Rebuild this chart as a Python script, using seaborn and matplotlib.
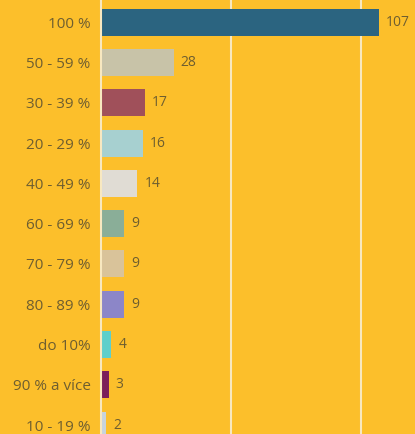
import pandas as pd
import matplotlib.pyplot as plt
import seaborn as sns

# 数据
kategorie = ['100 %', '50 - 59 %', '30 - 39 %', '20 - 29 %', '40 - 49 %', '60 - 69 %',
             '70 - 79 %', '80 - 89 %', 'do 10%', '90 % a více', '10 - 19 %']
pocty = [107, 28, 17, 16, 14, 9, 9, 9, 4, 3, 2]
barvy = ['#2B6480', '#C8C3A8', '#A0505A', '#A7D0D0', '#E0DCD4', '#8AAE98',
         '#D9C39A', '#8C86C8', '#5ECFCB', '#7B1F5A', '#C8D4DC']

df = pd.DataFrame({'kategorie': kategorie, 'pocet': pocty})

sns.set_style('white')
plt.rcParams['font.family'] = ['Open Sans', 'DejaVu Sans']

pozadi = '#FCBF2B'
text_barva = '#6E5E30'

fig = plt.figure(figsize=(4.15, 4.34), dpi=100, facecolor=pozadi)
ax = fig.add_axes([101 / 415, 0, 1 - 101 / 415, 1])
ax.set_facecolor(pozadi)

sns.barplot(data=df, y='kategorie', x='pocet', hue='kategorie', palette=barvy,
            orient='h', width=0.67, legend=False, ax=ax, saturation=1, linewidth=0)

# popisky hodnot
for cont in ax.containers:
    ax.bar_label(cont, padding=5, color=text_barva, fontsize=10)

ax.set_xlim(0, 120.8)
ax.set_ylim(10.22, -0.55)
ax.set_xticks([50, 100])
ax.xaxis.grid(True, color='#F8E8C0', linewidth=1.5)
ax.set_axisbelow(True)
ax.tick_params(axis='x', bottom=False, labelbottom=False)
ax.tick_params(axis='y', left=False, pad=4, labelsize=11, labelcolor=text_barva)
ax.set_xlabel('')
ax.set_ylabel('')
for s in ['top', 'right', 'bottom']:
    ax.spines[s].set_visible(False)
ax.spines['left'].set_color('#F8E8C0')
ax.spines['left'].set_linewidth(1.5)

fig.savefig('out.png', dpi=100, facecolor=pozadi)
